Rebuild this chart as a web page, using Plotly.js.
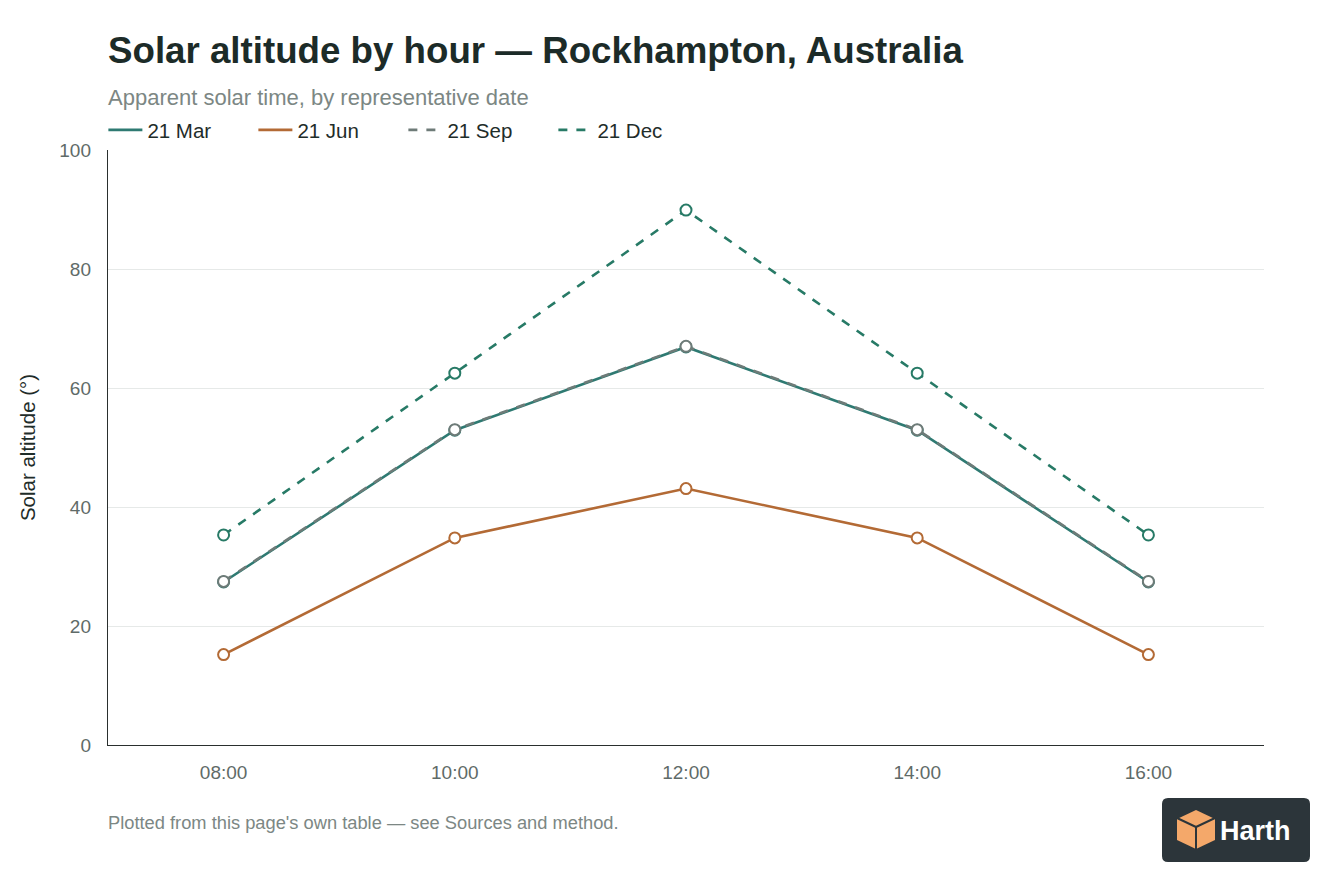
<!DOCTYPE html>
<html>
<head>
<meta charset="utf-8">
<script src="https://cdn.plot.ly/plotly-3.0.1.min.js"></script>
<style>
  html, body { margin: 0; padding: 0; background: #ffffff; }
  #plot { width: 1344px; height: 896px; }
</style>
</head>
<body>
<div id="plot"></div>
<script>
// hours of apparent solar time
var hours = ['08:00', '10:00', '12:00', '14:00', '16:00'];

// solar altitude in degrees
var marAlt = [27.4, 52.9, 66.9, 52.9, 27.4];
var junAlt = [15.2, 34.8, 43.1, 34.8, 15.2];
var sepAlt = [27.5, 53.0, 67.0, 53.0, 27.5];
var decAlt = [35.3, 62.5, 89.9, 62.5, 35.3];

var seriesNames = ['21 Mar', '21 Jun', '21 Sep', '21 Dec'];
var seriesColors = ['#2e7a72', '#b36a35', '#6e7b78', '#277a66'];
var seriesDash = ['solid', 'solid', 'dash', 'dash'];
var yTicks = [0, 20, 40, 60, 80, 100];

var allAlt = [marAlt, junAlt, sepAlt, decAlt];

var data = [];
// the lines with open markers, kept out of the legend
allAlt.forEach(function (y, i) {
  data.push({
    x: hours,
    y: y,
    name: seriesNames[i],
    legendgroup: seriesNames[i],
    showlegend: false,
    type: 'scatter',
    mode: 'lines+markers',
    line: { color: seriesColors[i], width: 2.6, dash: seriesDash[i] },
    marker: {
      symbol: 'circle',
      size: 11,
      color: '#ffffff',
      line: { color: seriesColors[i], width: 2 }
    },
    hoverinfo: 'skip'
  });
});
// legend entries draw only a line sample
allAlt.forEach(function (y, i) {
  data.push({
    x: [null],
    y: [null],
    name: seriesNames[i],
    legendgroup: seriesNames[i],
    type: 'scatter',
    mode: 'lines',
    line: { color: seriesColors[i], width: 2.6, dash: seriesDash[i] }
  });
});

var layout = {
  width: 1344,
  height: 896,
  paper_bgcolor: '#ffffff',
  plot_bgcolor: '#ffffff',
  font: { family: 'Liberation Sans, Arial, sans-serif', color: '#5f6b68' },
  margin: { l: 108, r: 80, t: 150, b: 151 },
  showlegend: true,
  legend: {
    orientation: 'h',
    x: -0.004, xref: 'paper', xanchor: 'left',
    y: 1.0, yref: 'paper', yanchor: 'bottom',
    font: { size: 20.5, color: '#1f2d2a' },
    entrywidth: 101,
    entrywidthmode: 'pixels',
    itemwidth: 34,
    tracegroupgap: 0,
    bgcolor: 'rgba(0,0,0,0)'
  },
  title: {
    text: '<b>Solar altitude by hour — Rockhampton, Australia</b>',
    x: 0, xref: 'paper', xanchor: 'left',
    y: 0.944, yref: 'container', yanchor: 'middle',
    font: { size: 36.7, color: '#1c2b28' }
  },
  xaxis: {
    type: 'category',
    range: [-0.5, 4.5],
    showgrid: false,
    showline: true,
    linecolor: '#2a2f2e',
    linewidth: 1.2,
    ticks: '',
    tickfont: { size: 19, color: '#5f6b68' },
    ticklabelstandoff: 10,
    fixedrange: true
  },
  yaxis: {
    range: [0, 100],
    tickvals: yTicks,
    showgrid: true,
    gridcolor: '#e6e9e8',
    gridwidth: 1,
    zeroline: false,
    showline: true,
    linecolor: '#2a2f2e',
    linewidth: 1.2,
    ticks: '',
    tickfont: { size: 19, color: '#5f6b68' },
    ticklabelstandoff: 12,
    title: {
      text: 'Solar altitude (°)',
      font: { size: 20.5, color: '#1f2d2a' },
      standoff: 18
    },
    fixedrange: true
  },
  annotations: [
    {
      text: 'Apparent solar time, by representative date',
      xref: 'paper', yref: 'paper',
      x: 0, y: 1.0, xanchor: 'left', yanchor: 'middle',
      xshift: -2, yshift: 53,
      showarrow: false,
      font: { size: 22, color: '#7c8784' }
    },
    {
      text: "Plotted from this page's own table — see Sources and method.",
      xref: 'paper', yref: 'paper',
      x: 0, y: 0, xanchor: 'left', yanchor: 'middle',
      xshift: -2, yshift: -77,
      showarrow: false,
      font: { size: 18.3, color: '#7c8784' }
    },
    {
      text: '<b>Harth</b>',
      xref: 'paper', yref: 'paper',
      x: 1, y: 0, xanchor: 'left', yanchor: 'middle',
      xshift: -46, yshift: -86,
      showarrow: false,
      font: { size: 27, color: '#ffffff' }
    }
  ],
  shapes: [
    // logo badge
    {
      type: 'path', xref: 'paper', yref: 'paper',
      xsizemode: 'pixel', ysizemode: 'pixel', xanchor: 1, yanchor: 0,
      path: 'M -96,-53 L 40,-53 Q 46,-53 46,-59 L 46,-111 Q 46,-117 40,-117 L -96,-117 Q -102,-117 -102,-111 L -102,-59 Q -102,-53 -96,-53 Z',
      fillcolor: '#2c353a', line: { width: 0 }
    },
    // cube icon
    {
      type: 'path', xref: 'paper', yref: 'paper',
      xsizemode: 'pixel', ysizemode: 'pixel', xanchor: 1, yanchor: 0,
      path: 'M -68,-65 L -87,-74 L -87,-95 L -68,-104 L -49,-95 L -49,-74 Z',
      fillcolor: '#f4a86a', line: { width: 0 }
    },
    {
      type: 'path', xref: 'paper', yref: 'paper',
      xsizemode: 'pixel', ysizemode: 'pixel', xanchor: 1, yanchor: 0,
      path: 'M -68,-104 L -68,-82 M -68,-82 L -87,-73 M -68,-82 L -49,-73',
      line: { color: '#2c353a', width: 2 }
    }
  ]
};

Plotly.newPlot('plot', data, layout, { displayModeBar: false, staticPlot: true });
</script>
</body>
</html>
